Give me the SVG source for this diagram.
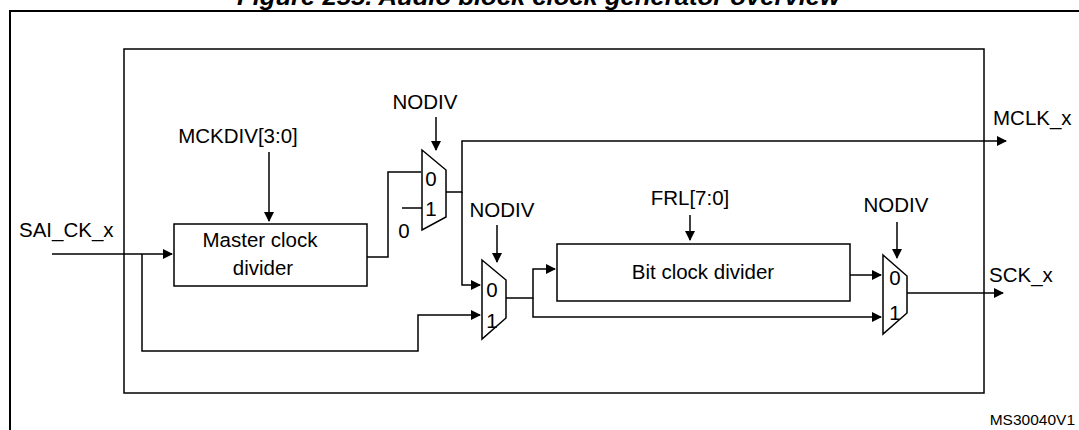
<svg xmlns="http://www.w3.org/2000/svg" width="1079" height="430" viewBox="0 0 1079 430">
<style>
text{font-family:"Liberation Sans",Arial,sans-serif;font-size:20.5px;fill:#000}
.b{fill:#fff;stroke:#000;stroke-width:1.5}
.w{fill:none;stroke:#000;stroke-width:1.5}
.t{font-weight:bold;font-style:italic;font-size:24px}
.s{font-size:15.5px}
</style>
<defs><marker id="a" markerWidth="10" markerHeight="10" refX="9" refY="5" orient="auto" markerUnits="userSpaceOnUse"><path d="M0,0L10,5L0,10z" fill="#000"/></marker></defs>
<text class="t" x="237" y="5" textLength="603" lengthAdjust="spacingAndGlyphs">Figure 255. Audio block clock generator overview</text>
<rect x="10" y="11" width="1080" height="430" fill="none" stroke="#000" stroke-width="2"/>
<rect x="124" y="49" width="860" height="344" class="w"/>
<text x="19" y="237">SAI_CK_x</text>
<text x="993" y="125">MCLK_x</text>
<text x="989" y="282">SCK_x</text>
<text class="s" x="1075" y="425" text-anchor="end">MS30040V1</text>
<g id="mcd"><rect x="174" y="224" width="193" height="62" class="b"/><text x="260" y="247" text-anchor="middle">Master clock</text><text x="263" y="275" text-anchor="middle">divider</text></g>
<g id="bcd"><rect x="557" y="244" width="293" height="57" class="b"/><text x="703" y="279" text-anchor="middle">Bit clock divider</text></g>
<g id="mux1"><path d="M422,150L446,170L446,217L422,230Z" class="b"/><text x="431" y="186" text-anchor="middle">0</text><text x="431" y="216" text-anchor="middle">1</text></g>
<g id="mux2"><path d="M482,260L506,280L506,318L482,339Z" class="b"/><text x="492" y="297" text-anchor="middle">0</text><text x="492" y="328" text-anchor="middle">1</text></g>
<g id="mux3"><path d="M883,255L907,276L907,313L883,334Z" class="b"/><text x="895" y="285" text-anchor="middle">0</text><text x="895" y="320" text-anchor="middle">1</text></g>
<text x="238" y="143" text-anchor="middle">MCKDIV[3:0]</text>
<text x="425" y="109" text-anchor="middle">NODIV</text>
<text x="502" y="217" text-anchor="middle">NODIV</text>
<text x="690" y="205" text-anchor="middle">FRL[7:0]</text>
<text x="896" y="212" text-anchor="middle">NODIV</text>
<text x="404" y="238" text-anchor="middle">0</text>
<g id="connectors" class="w" marker-end="url(#a)">
<path d="M52,254H172"/>
<path d="M142,254V351H418V315H480"/>
<path d="M269,152V221"/>
<path d="M367,257H388V172H421" marker-end="none"/>
<path d="M402,208H422" marker-end="none"/>
<path d="M436,117V150"/>
<path d="M446,192H462V141H1006"/>
<path d="M462,192V285H480"/>
<path d="M497,225V262"/>
<path d="M506,298H533V269H555"/>
<path d="M533,298V317H881"/>
<path d="M690,215V240"/>
<path d="M850,275H881"/>
<path d="M897,222V258"/>
<path d="M907,293H1003"/>
</g>
</svg>
